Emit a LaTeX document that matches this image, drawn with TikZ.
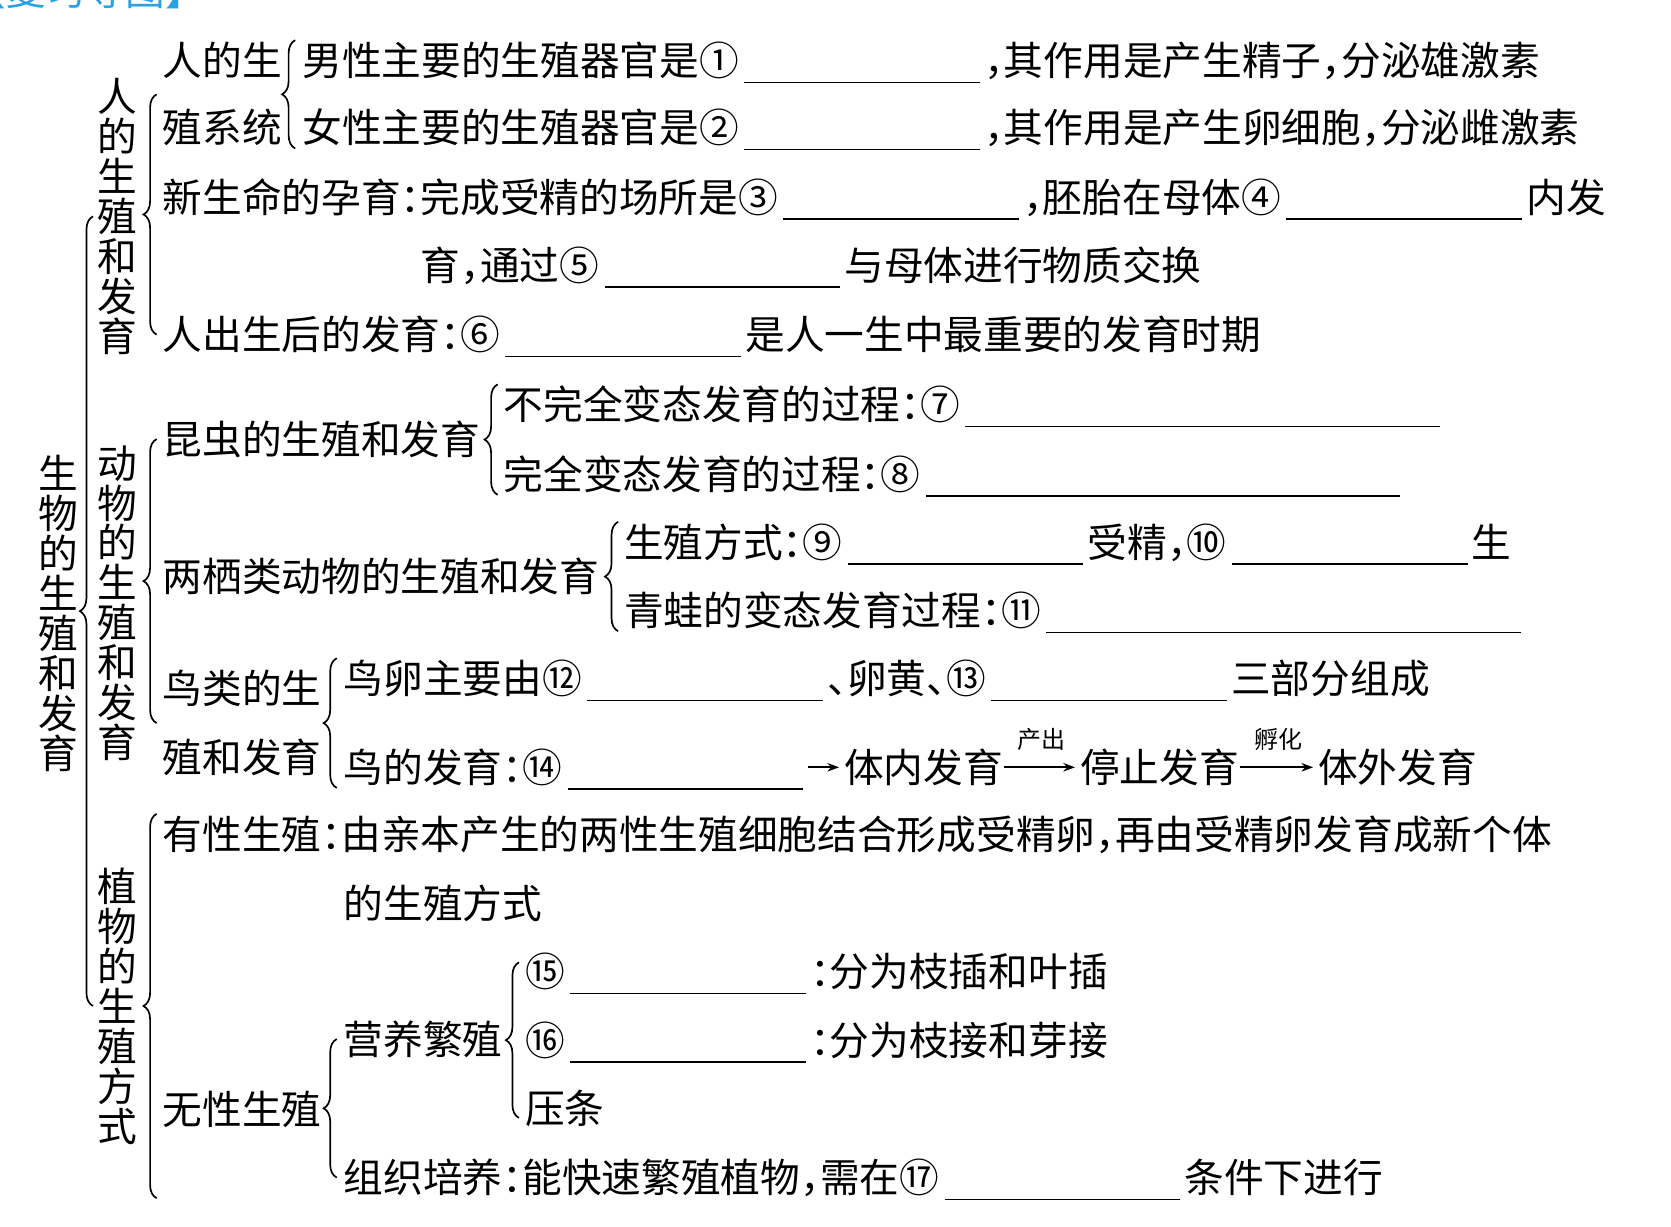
\documentclass[tikz,border=0pt]{standalone}
\usepackage{fontspec}
\setmainfont{Noto Sans CJK SC}
\usetikzlibrary{positioning, arrows.meta, decorations.pathreplacing}
\definecolor{tiblue}{RGB}{45, 160, 225}
\newcommand{\dou}{\makebox[0.5em][l]{，}}
\newcommand{\mao}{\makebox[0.5em][l]{：}}
\newcommand{\dun}{\makebox[0.5em][l]{、}}
\newcommand{\kong}[1][2.21cm]{\kern0.5mm\rule[-0.7mm]{#1}{0.4pt}\kern0.4mm}

\begin{document}
\begin{tikzpicture}[x=0.01cm, y=-0.01cm,
    font=\fontsize{10.59pt}{12pt}\selectfont,
    txt/.style={anchor=west, inner sep=0pt, text height=9.3pt, text depth=1.3pt},
    twol/.style={anchor=west, inner sep=0pt, align=left,
                 font=\fontsize{10.59pt}{#1}\selectfont},
    vlab/.style={inner sep=0pt, align=center, text width=0.4cm,
                 font=\fontsize{10.59pt}{10.66pt}\selectfont},
    brc/.style={decorate, decoration={brace, amplitude=3.5pt}, line width=0.45pt},
    arr/.style={-{Stealth[length=1.1mm, width=0.8mm]}, line width=0.45pt,
                shorten >=0.4mm},
    lbl/.style={font=\fontsize{6.4pt}{7pt}\selectfont, inner sep=0pt}]
  \useasboundingbox (0,0) rectangle (1568,1151);

  \node[txt, text=tiblue] (hd) at (-32,-9) {【复习导图】};

  \node[vlab] (tt) at (55,575.5) {生\\物\\的\\生\\殖\\和\\发\\育};
  \node[vlab] (va) at (110,203) {人\\的\\生\\殖\\和\\发\\育};
  \node[vlab] (vb) at (110,566) {动\\物\\的\\生\\殖\\和\\发\\育};
  \node[vlab] (vc) at (110,944) {植\\物\\的\\生\\殖\\方\\式};

  \node[twol=17.9pt] (rs) at (152,88.5) {人的生\\殖系统};
  \node[txt] (r1) at (283,57) {男性主要的生殖器官是①\kong\dou 其作用是产生精子\dou 分泌雄激素};
  \node[txt] (r2) at (283,120) {女性主要的生殖器官是②\kong\dou 其作用是产生卵细胞\dou 分泌雌激素};
  \node[txt] (r3) at (152,185) {新生命的孕育\mao 完成受精的场所是③\kong\dou 胚胎在母体④\kong 内发};
  \node[txt] (r4) at (394,249) {育\dou 通过⑤\kong 与母体进行物质交换};
  \node[txt] (r5) at (152,314) {人出生后的发育\mao ⑥\kong 是人一生中最重要的发育时期};

  \node[txt] (kc) at (152,412) {昆虫的生殖和发育};
  \node[txt] (k1) at (472,380) {不完全变态发育的过程\mao ⑦\kong[4.45cm]};
  \node[txt] (k2) at (472,445) {完全变态发育的过程\mao ⑧\kong[4.45cm]};

  \node[txt] (lq) at (152,541) {两栖类动物的生殖和发育};
  \node[txt] (l1) at (585,509) {生殖方式\mao ⑨\kong 受精\dou ⑩\kong 生};
  \node[txt] (l2) at (585,573) {青蛙的变态发育过程\mao ⑪\kong[4.45cm]};

  \node[twol=18.5pt] (nl) at (152,678.5) {鸟类的生\\殖和发育};
  \node[txt] (n1) at (322,637) {鸟卵主要由⑫\kong\dun 卵黄\dun ⑬\kong 三部分组成};
  \node[txt] (n2) at (322,720) {鸟的发育\mao ⑭\kong};
  \node[txt, right=3.3mm of n2] (tn) {体内发育};
  \node[txt, right=7.1mm of tn] (tz) {停止发育};
  \node[txt, right=7.3mm of tz] (tw) {体外发育};

  \node[txt] (ys) at (152,783) {有性生殖\mao 由亲本产生的两性生殖细胞结合形成受精卵\dou 再由受精卵发育成新个体};
  \node[txt] (ys2) at (322,848) {的生殖方式};
  \node[txt] (wx) at (152,1041) {无性生殖};
  \node[txt] (yy) at (322,975) {营养繁殖};
  \node[txt] (y1) at (492,912) {⑮\kong\mao 分为枝插和叶插};
  \node[txt] (y2) at (492,976) {⑯\kong\mao 分为枝接和芽接};
  \node[txt] (y3) at (492,1040) {压条};
  \node[txt] (zz) at (322,1105) {组织培养\mao 能快速繁殖植物\dou 需在⑰\kong 条件下进行};

  \draw[brc] ([xshift=-0.2mm]vc.west) -- ([xshift=-0.2mm]va.west);
  \draw[brc] ([xshift=-0.5mm]r5.west) -- ([xshift=-0.5mm]rs.west);
  \draw[brc] ([xshift=-0.6mm]r2.south west) -- ([xshift=-0.6mm]r1.north west);
  \draw[brc] ([xshift=-0.5mm]nl.west) -- ([xshift=-0.5mm]kc.west);
  \draw[brc] ([xshift=-0.5mm]k2.south west) -- ([xshift=-0.5mm]k1.north west);
  \draw[brc] ([xshift=-0.5mm]l2.south west) -- ([xshift=-0.5mm]l1.north west);
  \draw[brc] ([xshift=-0.6mm]n2.south west) -- ([xshift=-0.6mm]n1.north west);
  \draw[brc] ([xshift=-0.5mm]ys.west |- zz.south) -- ([xshift=-0.5mm]ys.north west);
  \draw[brc] ([xshift=-0.6mm]zz.west) -- ([xshift=-0.6mm]yy.west);
  \draw[brc] ([xshift=-0.5mm, yshift=-0.9mm]y3.west) -- ([xshift=-0.5mm, yshift=0.9mm]y1.west);

  \draw[arr] (n2.east) -- (tn.west);
  \draw[arr] (tn.east) -- (tz.west) node[lbl, midway, above=1.5mm] {产出};
  \draw[arr] (tz.east) -- (tw.west) node[lbl, midway, above=1.5mm] {孵化};
\end{tikzpicture}
\end{document}
